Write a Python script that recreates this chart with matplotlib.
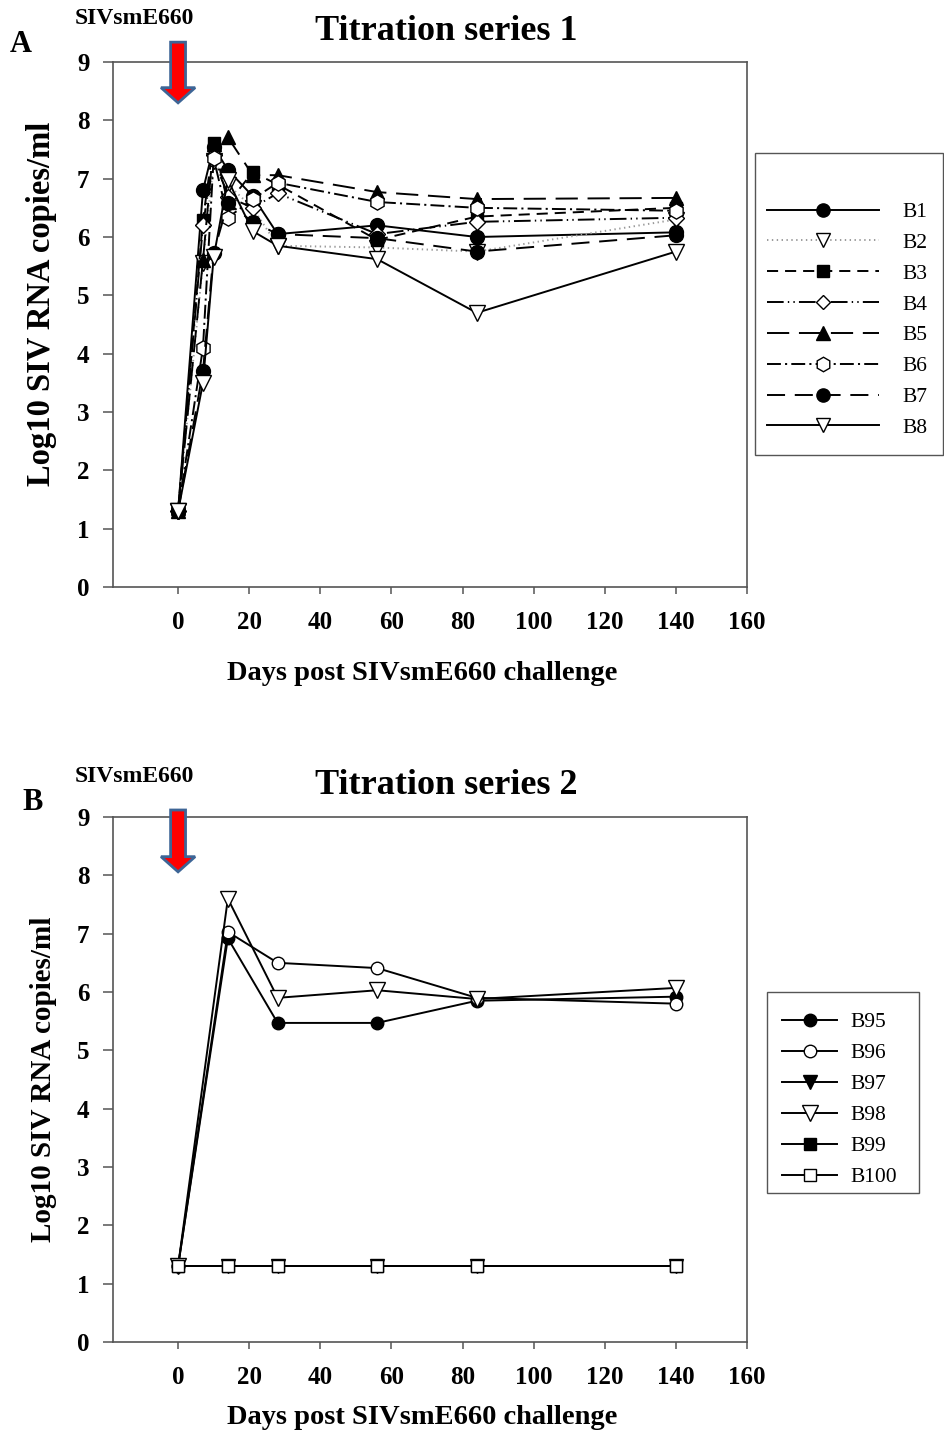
import matplotlib
matplotlib.use("Agg")
import matplotlib.pyplot as plt
from matplotlib.patches import FancyArrow, Rectangle

plt.rcParams['font.family'] = ['Liberation Serif', 'DejaVu Serif']
plt.rcParams['lines.scale_dashes'] = False

# ---------------- data ----------------
days_a = [0, 7, 10, 14, 21, 28, 56, 84, 140]
b1 = [1.3, 6.80, 7.55, 7.15, 6.70, 6.05, 6.20, 6.00, 6.08]
b2 = [1.3, 5.55, 7.30, 6.90, 6.50, 5.85, 5.82, 5.75, 6.30]
b3 = [1.3, 6.30, 7.62, 6.58, 7.11, 6.90, 5.95, 6.35, 6.50]
b4 = [1.3, 6.20, 7.40, 6.69, 6.50, 6.75, 6.05, 6.26, 6.33]
b5 = [1.3, 5.60, 7.60, 7.71, 7.06, 7.06, 6.77, 6.65, 6.67]
b6 = [1.3, 4.10, 7.35, 6.33, 6.65, 6.93, 6.60, 6.50, 6.45]
b7 = [1.3, 3.70, 5.73, 6.58, 6.26, 6.05, 5.98, 5.75, 6.03]
b8 = [1.3, 3.50, 5.65, 6.98, 6.10, 5.85, 5.62, 4.70, 5.75]
labels_a = ['B1', 'B2', 'B3', 'B4', 'B5', 'B6', 'B7', 'B8']

days_b = [0, 14, 28, 56, 84, 140]
b95 = [1.3, 6.92, 5.47, 5.47, 5.85, 5.92]
b96 = [1.3, 7.03, 6.50, 6.41, 5.90, 5.80]
b97 = [1.3, 1.3, 1.3, 1.3, 1.3, 1.3]
b98 = [1.3, 7.60, 5.90, 6.03, 5.88, 6.07]
b99 = [1.3, 1.3, 1.3, 1.3, 1.3, 1.3]
b100 = [1.3, 1.3, 1.3, 1.3, 1.3, 1.3]
labels_b = ['B95', 'B96', 'B97', 'B98', 'B99', 'B100']

x_ticks = [0, 20, 40, 60, 80, 100, 120, 140, 160]
y_ticks = [0, 1, 2, 3, 4, 5, 6, 7, 8, 9]

W, H = 945, 1431
fig = plt.figure(figsize=(W / 100, H / 100), dpi=100)

def px_axes(l, r, t, b):
    return fig.add_axes([l / W, 1 - b / H, (r - l) / W, (b - t) / H])

axA = px_axes(113, 747, 62, 587)
axB = px_axes(113, 747, 817, 1342)

spine_col = '#555555'

def style_axes(ax, xlab_y, ylab_y, ylab_fs):
    ax.set_xlim(-18.3, 160)
    ax.set_ylim(0, 9)
    ax.set_xticks(x_ticks)
    ax.set_yticks(y_ticks)
    for s in ax.spines.values():
        s.set_color(spine_col)
        s.set_linewidth(1.2)
    ax.tick_params(axis='x', direction='out', length=5, width=1.1, color=spine_col,
                   pad=12, labelsize=18)
    ax.tick_params(axis='y', direction='out', length=7, width=1.1, color=spine_col,
                   pad=10, labelsize=18)
    for lab in ax.get_xticklabels() + ax.get_yticklabels():
        lab.set_fontweight('bold')
    ax.set_xlabel('Days post SIVsmE660 challenge', fontsize=20.5, fontweight='bold')
    ax.set_ylabel('Log10 SIV RNA copies/ml', fontsize=ylab_fs, fontweight='bold')
    ax.xaxis.set_label_coords(0.487, xlab_y)
    ax.yaxis.set_label_coords(-0.088, ylab_y)

style_axes(axA, -0.14, 0.539, 23.5)
style_axes(axB, -0.12, 0.50, 21)

# ---------------- panel A ----------------
lw = 1.4
styles_a = [
    dict(ls='-', marker='o', mfc='black', ms=10, color='black'),
    dict(ls=(0, (1, 2.5)), marker='v', mfc='white', ms=11, color='#9a9a9a'),
    dict(ls=(0, (8, 5)), marker='s', mfc='black', ms=9, color='black'),
    dict(ls=(0, (12, 3, 1, 3, 1, 3)), marker='D', mfc='white', ms=8, color='black'),
    dict(ls=(0, (16, 7)), marker='^', mfc='black', ms=10, color='black'),
    dict(ls=(0, (10, 3, 1.5, 3)), marker='h', mfc='white', ms=11, color='black'),
    dict(ls=(0, (13, 7)), marker='o', mfc='black', ms=10, color='black'),
    dict(ls='-', marker='v', mfc='white', ms=11, color='black'),
]
series_a = [b1, b2, b3, b4, b5, b6, b7, b8]
for vals, lab, st in zip(series_a, labels_a, styles_a):
    axA.plot(days_a, vals, linestyle=st['ls'], color=st['color'], lw=lw,
             marker=st['marker'], mfc=st['mfc'], mec='black', mew=1.0,
             ms=st['ms'], label=lab, clip_on=False, zorder=3)

leg_fs = 15.5
legA = axA.legend(loc='upper left', bbox_to_anchor=(767 / W, 1 - 202 / H),
                  bbox_transform=fig.transFigure, frameon=False,
                  fontsize=leg_fs, handlelength=5.2, handletextpad=1.1,
                  labelspacing=0.5, borderpad=0, borderaxespad=0,
                  markerscale=0.95)
fig.patches.append(Rectangle((755 / W, 1 - 455 / H), (943 - 755) / W, (455 - 153) / H,
                             transform=fig.transFigure, fill=False,
                             ec='#555555', lw=1.0))

# ---------------- panel B ----------------
styles_b = [
    dict(marker='o', mfc='black', ms=9),
    dict(marker='o', mfc='white', ms=9),
    dict(marker='v', mfc='black', ms=10),
    dict(marker='v', mfc='white', ms=11),
    dict(marker='s', mfc='black', ms=8),
    dict(marker='s', mfc='white', ms=9),
]
series_b = [b95, b96, b97, b98, b99, b100]
for vals, lab, st in zip(series_b, labels_b, styles_b):
    axB.plot(days_b, vals, linestyle='-', color='black', lw=1.4,
             marker=st['marker'], mfc=st['mfc'], mec='black', mew=1.0,
             ms=st['ms'], label=lab, clip_on=False, zorder=3)

legB = axB.legend(loc='upper left', bbox_to_anchor=(782 / W, 1 - 1012 / H),
                  bbox_transform=fig.transFigure, frameon=False,
                  fontsize=leg_fs, handlelength=2.56, handletextpad=0.6,
                  labelspacing=0.51, borderpad=0, borderaxespad=0)
fig.patches.append(Rectangle((767 / W, 1 - 1193 / H), (919 - 767) / W, (1193 - 992) / H,
                             transform=fig.transFigure, fill=False,
                             ec='#555555', lw=1.0))

# ---------------- arrows / text ----------------
def add_arrow(ax, top, tip):
    arr = FancyArrow(0, top, 0, tip - top, width=4.2, head_width=9.6,
                     head_length=0.26, length_includes_head=True,
                     fc='#ff0000', ec='#3d6596', lw=2.0, clip_on=False, zorder=5)
    ax.add_patch(arr)

add_arrow(axA, 9.34, 8.30)
add_arrow(axB, 9.12, 8.06)

fig.text(446 / W, 1 - 32 / H, 'Titration series 1', fontsize=26, fontweight='bold',
         ha='center', va='center')
fig.text(446 / W, 1 - 785 / H, 'Titration series 2', fontsize=26, fontweight='bold',
         ha='center', va='center')
fig.text(10 / W, 1 - 45 / H, 'A', fontsize=22, fontweight='bold', ha='left', va='center')
fig.text(22 / W, 1 - 802 / H, 'B', fontsize=22, fontweight='bold', ha='left', va='center')
fig.text(134 / W, 1 - 19 / H, 'SIVsmE660', fontsize=17, fontweight='bold',
         ha='center', va='center')
fig.text(134 / W, 1 - 776 / H, 'SIVsmE660', fontsize=17, fontweight='bold',
         ha='center', va='center')

fig.savefig('out.png', dpi=100, facecolor='white')
